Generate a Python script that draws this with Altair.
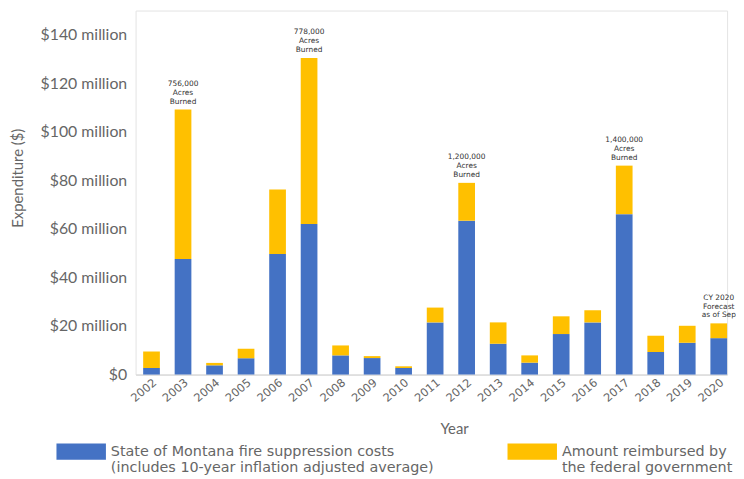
import altair as alt
import pandas as pd

years = [str(y) for y in range(2002, 2021)]
state_costs = [2.7, 47.6, 3.8, 6.7, 49.7, 62.0, 7.9, 6.8, 2.7, 21.5, 63.4, 12.7, 4.9, 16.7, 21.5, 66.1, 9.3, 13.1, 15.0]
federal_reimb = [6.8, 61.6, 1.0, 3.9, 26.6, 68.5, 4.1, 0.8, 0.7, 6.1, 15.6, 8.8, 3.0, 7.3, 5.0, 20.0, 6.7, 7.0, 6.1]

series_names = [
    "State of Montana fire suppression costs|(includes 10-year inflation adjusted average)",
    "Amount reimbursed by|the federal government",
]
series_colors = ["#4472C4", "#FFC000"]

note_years = ["2003", "2007", "2012", "2017", "2020"]
note_texts = [
    "756,000|Acres|Burned",
    "778,000|Acres|Burned",
    "1,200,000|Acres|Burned",
    "1,400,000|Acres|Burned",
    "CY 2020|Forecast|as of Sep",
]

y_ticks = [0, 20, 40, 60, 80, 100, 120, 140]

rows = []
for i, y in enumerate(years):
    rows.append({"Year": y, "Series": series_names[0], "Value": state_costs[i], "ord": 0})
    rows.append({"Year": y, "Series": series_names[1], "Value": federal_reimb[i], "ord": 1})
df = pd.DataFrame(rows)

notes = pd.DataFrame({
    "Year": note_years,
    "Text": note_texts,
    "Top": [state_costs[years.index(y)] + federal_reimb[years.index(y)] for y in note_years],
})

x_scale = alt.Scale(domain=years, paddingInner=0.47, paddingOuter=0.12, align=1)
y_scale = alt.Scale(domain=[0, 150], nice=False)

bars = alt.Chart(df).mark_bar().encode(
    x=alt.X("Year:N", scale=x_scale, sort=years,
            axis=alt.Axis(title="Year", labelAngle=-40, ticks=False, labelPadding=2,
                          labelFont="DejaVu Sans", labelFontSize=11.5, labelColor="#666666",
                          domainColor="#d0d0d0", titleFont="Lato", titleFontSize=15,
                          titleFontWeight="normal", titleColor="#666666",
                          titleX=322, titleY=55, titleBaseline="middle")),
    y=alt.Y("Value:Q", scale=y_scale, stack="zero",
            axis=alt.Axis(title="Expenditure ($)", values=y_ticks, grid=False, ticks=False,
                          domain=False, labelPadding=9, labelFont="Lato", labelFontSize=16,
                          labelColor="#666666",
                          labelExpr="datum.value == 0 ? '$0' : '$' + datum.value + ' million'",
                          titleFont="Lato", titleFontSize=15, titleFontWeight="normal",
                          titleColor="#666666", titleX=-119, titleY=169,
                          titleBaseline="middle")),
    color=alt.Color("Series:N", scale=alt.Scale(domain=series_names, range=series_colors),
                    legend=alt.Legend(title=None, orient="none", direction="horizontal",
                                      legendX=-80, legendY=421,
                                      symbolType="M-1,-0.33H1V0.33H-1Z", symbolSize=2500,
                                      symbolStrokeWidth=0, symbolOpacity=1,
                                      labelFont="DejaVu Sans", labelFontSize=14.5,
                                      labelColor="#666666", labelLimit=500, labelOffset=5,
                                      columnPadding=74,
                                      labelExpr="split(datum.label, '|')")),
    order=alt.Order("ord:Q", sort="ascending"),
)

labels = alt.Chart(notes).mark_text(
    baseline="bottom", align="center", dy=-22, font="DejaVu Sans", fontSize=7.5,
    lineBreak="|", lineHeight=9, color="#333333",
).encode(
    x=alt.X("Year:N", scale=x_scale, sort=years),
    y=alt.Y("Top:Q", scale=y_scale),
    text="Text:N",
)

chart = alt.layer(bars, labels).properties(
    width=598, height=368,
    autosize=alt.AutoSizeParams(type="none"),
    padding={"left": 129, "top": 0, "right": 9, "bottom": 103},
).configure_view(stroke="#e4e4e4", strokeWidth=1)

chart.save("out.html", embed_options={"renderer": "svg", "actions": False})
